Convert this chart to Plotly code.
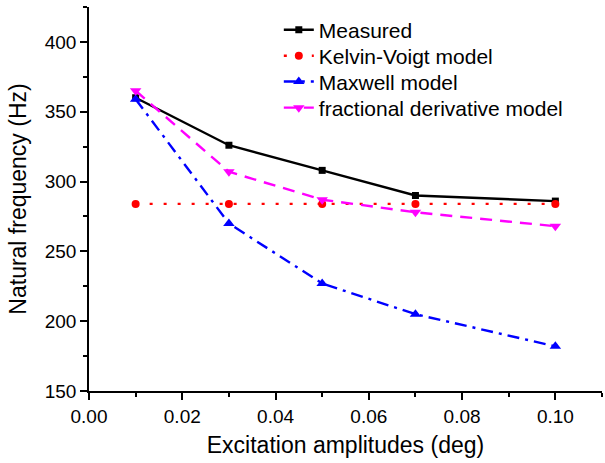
import plotly.graph_objects as go

amplitudes = [0.01, 0.03, 0.05, 0.07, 0.10]
measured = [360, 326, 308, 290, 286]
kelvin_voigt = [284, 284, 284, 284, 284]
maxwell = [359, 270, 227, 205, 182]
fractional = [365, 307, 287, 278, 268]

x_ticks = [0.00, 0.02, 0.04, 0.06, 0.08, 0.10]
x_tick_labels = ["0.00", "0.02", "0.04", "0.06", "0.08", "0.10"]
y_ticks = [150, 200, 250, 300, 350, 400]

font_family = "Liberation Sans, Arial, sans-serif"

fig = go.Figure()
fig.add_trace(go.Scatter(x=amplitudes, y=measured, name="Measured", mode="lines+markers",
                         line=dict(color="black", width=2.4, dash="solid"),
                         marker=dict(symbol="square", size=7, color="black"), legend="legend"))
fig.add_trace(go.Scatter(x=amplitudes, y=kelvin_voigt, name="Kelvin-Voigt model", mode="lines+markers",
                         line=dict(color="red", width=2.4, dash="3px,11px"),
                         marker=dict(symbol="circle", size=8, color="red"), legend="legend2"))
fig.add_trace(go.Scatter(x=amplitudes, y=maxwell, name="Maxwell model", mode="lines+markers",
                         line=dict(color="blue", width=2.4, dash="12px,6px,3px,6px"),
                         marker=dict(symbol="triangle-up", size=10, color="blue"), legend="legend3"))
fig.add_trace(go.Scatter(x=amplitudes, y=fractional, name="fractional derivative model", mode="lines+markers",
                         line=dict(color="magenta", width=2.4, dash="12px,8px"),
                         marker=dict(symbol="triangle-down", size=10, color="magenta"), legend="legend4"))

axis_common = dict(showline=True, linecolor="black", linewidth=1.5, ticks="outside",
                   ticklen=7, tickwidth=1.5, tickcolor="black", showgrid=False, zeroline=False,
                   tickfont=dict(size=19, color="black", family=font_family),
                   mirror=False, automargin=False)

def legend_at(yc):
    return dict(x=0.37, y=yc, xanchor="left", yanchor="middle", bgcolor="rgba(0,0,0,0)",
                font=dict(size=21, family=font_family, color="black"), itemwidth=30)

fig.update_layout(
    width=605, height=463,
    margin=dict(l=89, r=3, t=7, b=72),
    paper_bgcolor="white", plot_bgcolor="white",
    font=dict(family=font_family, color="black"),
    xaxis=dict(range=[0, 0.11], tickvals=x_ticks, ticktext=x_tick_labels,
               minor=dict(dtick=0.01, tick0=0, ticks="outside", ticklen=4, tickwidth=1.5, tickcolor="black"),
               title=dict(text="Excitation amplitudes (deg)", font=dict(size=23, family=font_family), standoff=11),
               **axis_common),
    yaxis=dict(range=[150, 425], tickvals=y_ticks,
               minor=dict(dtick=25, tick0=150, ticks="outside", ticklen=4, tickwidth=1.5, tickcolor="black"),
               title=dict(text="Natural frequency (Hz)", font=dict(size=23, family=font_family), standoff=12),
               **axis_common),
    legend=legend_at(0.940),
    legend2=legend_at(0.872),
    legend3=legend_at(0.805),
    legend4=legend_at(0.737),
    showlegend=True,
)

fig.write_html("out.html", config={"displayModeBar": False},
               post_script="document.body.style.margin='0';document.body.style.overflow='hidden';")
